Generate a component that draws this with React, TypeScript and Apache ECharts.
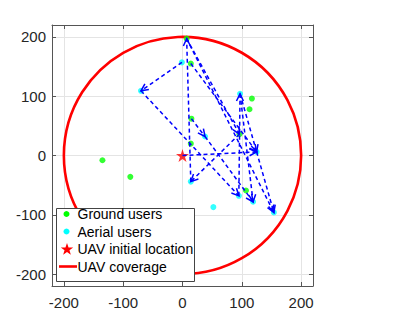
import React, { useEffect, useRef } from "react";
import * as echarts from "echarts";

// ---- data ----
const groundUsers: [number, number][] = [
  [7, 197], [14, 155], [117, 96], [113, 78], [15, 62],
  [96, 36], [14, 20], [107, -59], [-88, -36], [-135, -8],
];
const aerialUsers: [number, number][] = [
  [-1, 157], [-70, 109], [97, 104], [38, 32], [125, 6],
  [14, -44], [95, -68], [119, -78], [154, -96], [52, -87],
];
const uavStart: [number, number][] = [[0, 0]];
// centre x, centre y, radius
const coverage: [number, number, number][] = [[0, 0, 200]];
// trajectory arrows: x1, y1, x2, y2
const trajectory: [number, number, number, number][] = [
  [0, 0, 125, 6],
  [125, 6, 154, -96],
  [7, 197, 154, -96],
  [14, -44, 7, 197],
  [7, 197, 96, 36],
  [-1, 157, -70, 109],
  [-70, 109, 95, -68],
  [95, -68, 97, 104],
  [97, 104, 119, -78],
  [97, 104, 125, 6],
  [14, 155, 125, 6],
  [15, 62, 38, 32],
  [38, 32, 119, -78],
  [96, 36, 14, -44],
];
const axisMin = -220;
const axisMax = 220;
const legendLabels = ["Ground users", "Aerial users", "UAV initial location", "UAV coverage"];

const FONT = '"Liberation Sans", Arial, Helvetica, sans-serif';
const STAR_PATH =
  "path://M50,0 L61.2,34.5 L97.6,34.5 L68.2,55.9 L79.4,90.5 L50,69.1 L20.6,90.5 L31.8,55.9 L2.4,34.5 L38.8,34.5 Z";

function starPoints(cx: number, cy: number, R: number, r: number) {
  const pts: number[][] = [];
  for (let i = 0; i < 10; i++) {
    const rad = i % 2 === 0 ? R : r;
    const a = -Math.PI / 2 + (i * Math.PI) / 5;
    pts.push([cx + rad * Math.cos(a), cy + rad * Math.sin(a)]);
  }
  return pts;
}

export default function App() {
  const ref = useRef<HTMLDivElement>(null);
  useEffect(() => {
    if (!ref.current) return;
    const chart = echarts.init(ref.current, undefined, { renderer: "svg" });
    const axisColor = "#555";
    const labelStyle = { color: "#262626", fontSize: 15, fontFamily: FONT };
    const baseAxis = {
      min: axisMin,
      max: axisMax,
      splitNumber: 4,
      axisLine: { show: true, onZero: false, lineStyle: { color: axisColor, width: 1 } },
      axisTick: { show: true, inside: true, length: 4, lineStyle: { color: axisColor } },
    };
    const rowY = [214, 231.5, 249, 266.5];
    const option: any = {
      animation: false,
      backgroundColor: "#fff",
      grid: { left: 52, top: 25, width: 261, height: 261, containLabel: false },
      xAxis: [
        {
          type: "value",
          position: "bottom",
          ...baseAxis,
          axisLabel: { ...labelStyle, margin: 9, showMinLabel: false, showMaxLabel: false },
          splitLine: { show: true, lineStyle: { color: "#e4e4e4", width: 1 } },
        },
        {
          type: "value",
          position: "top",
          ...baseAxis,
          axisLabel: { show: false },
          splitLine: { show: false },
        },
      ],
      yAxis: [
        {
          type: "value",
          position: "left",
          ...baseAxis,
          axisLabel: { ...labelStyle, margin: 6, showMinLabel: false, showMaxLabel: false },
          splitLine: { show: true, lineStyle: { color: "#e4e4e4", width: 1 } },
        },
        {
          type: "value",
          position: "right",
          ...baseAxis,
          axisLabel: { show: false },
          splitLine: { show: false },
        },
      ],
      series: [
        {
          type: "custom",
          name: legendLabels[3],
          xAxisIndex: 0,
          yAxisIndex: 0,
          data: coverage,
          encode: { x: 0, y: 1 },
          z: 1,
          renderItem: (params: any, api: any) => {
            const c = api.coord([api.value(0), api.value(1)]);
            const r = api.size([api.value(2), 0])[0];
            return {
              type: "circle",
              shape: { cx: c[0], cy: c[1], r },
              style: { fill: "none", stroke: "#ff0000", lineWidth: 2.6 },
            };
          },
        },
        {
          type: "scatter",
          name: legendLabels[0],
          data: groundUsers,
          symbol: "circle",
          symbolSize: 6,
          itemStyle: { color: "#00ff00" },
          z: 3,
        },
        {
          type: "scatter",
          name: legendLabels[1],
          data: aerialUsers,
          symbol: "circle",
          symbolSize: 6,
          itemStyle: { color: "#00ffff" },
          z: 3,
        },
        {
          type: "scatter",
          name: legendLabels[2],
          data: uavStart,
          symbol: STAR_PATH,
          symbolSize: 13,
          itemStyle: { color: "#ff0000" },
          z: 4,
        },
        {
          type: "custom",
          name: "trajectory",
          xAxisIndex: 0,
          yAxisIndex: 0,
          data: trajectory,
          encode: { x: [0, 2], y: [1, 3] },
          z: 5,
          renderItem: (params: any, api: any) => {
            const p1 = api.coord([api.value(0), api.value(1)]);
            const p2 = api.coord([api.value(2), api.value(3)]);
            const ang = Math.atan2(p2[1] - p1[1], p2[0] - p1[0]);
            const L = 8;
            const a = 0.45;
            const h1 = [p2[0] - L * Math.cos(ang - a), p2[1] - L * Math.sin(ang - a)];
            const h2 = [p2[0] - L * Math.cos(ang + a), p2[1] - L * Math.sin(ang + a)];
            return {
              type: "group",
              children: [
                {
                  type: "line",
                  shape: { x1: p1[0], y1: p1[1], x2: p2[0], y2: p2[1] },
                  style: { stroke: "#0000ff", lineWidth: 1.5, lineDash: [4, 3], fill: "none" },
                },
                {
                  type: "polyline",
                  shape: { points: [h1, p2, h2] },
                  style: { stroke: "#0000ff", lineWidth: 1.5, fill: "none" },
                },
              ],
            };
          },
        },
      ],
      graphic: [
        {
          type: "rect",
          z: 100,
          shape: { x: 56.5, y: 208.5, width: 138, height: 73 },
          style: { fill: "#fff", stroke: "#444", lineWidth: 1 },
        },
        {
          type: "circle",
          z: 101,
          shape: { cx: 66.5, cy: rowY[0], r: 3 },
          style: { fill: "#00ff00" },
        },
        {
          type: "circle",
          z: 101,
          shape: { cx: 66.5, cy: rowY[1], r: 3 },
          style: { fill: "#00ffff" },
        },
        {
          type: "polygon",
          z: 101,
          shape: { points: starPoints(67, rowY[2] + 0.5, 6.5, 2.6) },
          style: { fill: "#ff0000" },
        },
        {
          type: "line",
          z: 101,
          shape: { x1: 59, y1: rowY[3], x2: 77, y2: rowY[3] },
          style: { stroke: "#ff0000", lineWidth: 2.6 },
        },
        ...legendLabels.map((t, i) => ({
          type: "text",
          z: 101,
          x: 77.5,
          y: rowY[i],
          style: {
            text: t,
            fontSize: 14,
            fontFamily: FONT,
            fill: "#000",
            align: "left",
            verticalAlign: "middle",
          },
        })),
      ],
    };
    chart.setOption(option);
    return () => chart.dispose();
  }, []);
  return (
    <div
      ref={ref}
      style={{ position: "fixed", left: 0, top: 0, width: 415, height: 321 }}
    />
  );
}
